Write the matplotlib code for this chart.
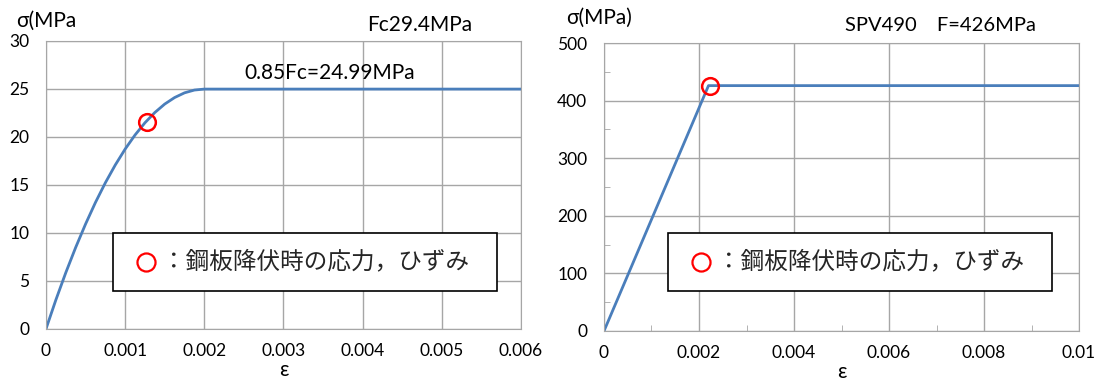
import numpy as np
import matplotlib.pyplot as plt
from matplotlib.patches import Rectangle
from matplotlib.ticker import MultipleLocator

plt.rcParams['font.family'] = ['Lato', 'DejaVu Sans']
plt.rcParams['font.size'] = 12

# --- コンクリート (Fc29.4MPa) 応力-ひずみ ---
conc_eps = [0, 0.000125, 0.00025, 0.000375, 0.0005, 0.000625, 0.00075, 0.000875,
            0.001, 0.001125, 0.00125, 0.001375, 0.0015, 0.001625, 0.00175,
            0.001875, 0.002, 0.006]
conc_sig = [0, 3.03, 5.86, 8.49, 10.93, 13.18, 15.23, 17.08,
            18.74, 20.21, 21.48, 22.55, 23.43, 24.11, 24.60,
            24.89, 24.99, 24.99]
conc_yield = (0.00127, 21.6)

# --- 鋼板 SPV490 ---
steel_eps = [0, 0.0022, 0.01]
steel_sig = [0, 426, 426]
steel_yield = (0.00223, 425)

left_xticks = [0, 0.001, 0.002, 0.003, 0.004, 0.005, 0.006]
left_xlabels = ['0', '0.001', '0.002', '0.003', '0.004', '0.005', '0.006']
right_xticks = [0, 0.002, 0.004, 0.006, 0.008, 0.01]
right_xlabels = ['0', '0.002', '0.004', '0.006', '0.008', '0.01']

legend_text = '：鋼板降伏時の応力，ひずみ'

blue = '#4a7ebb'
grid_c = '#a6a6a6'

fig = plt.figure(figsize=(11.05, 3.86), dpi=100)
ax1 = fig.add_axes([0.0416, 0.1477, 0.4299, 0.7461])
ax2 = fig.add_axes([0.5466, 0.1425, 0.4299, 0.7461])


def style(ax):
    ax.grid(True, color=grid_c, linewidth=1)
    ax.set_axisbelow(True)
    for s in ax.spines.values():
        s.set_color(grid_c)
    ax.tick_params(which='major', length=0, labelsize=12.5)
    ax.tick_params(axis='x', which='major', pad=10)
    ax.tick_params(axis='y', which='major', pad=12)
    ax.set_xlabel('ε', fontsize=15, labelpad=1)


def legend_box(ax, x0, y0):
    ax.add_patch(Rectangle((x0, y0), 0.808, 0.2, transform=ax.transAxes,
                           facecolor='white', edgecolor='black', linewidth=1.2, zorder=5))
    ax.plot([x0 + 0.07], [y0 + 0.1], 'o', transform=ax.transAxes, ms=13, mfc='none',
            mec='red', mew=1.6, zorder=6, clip_on=False)
    ax.text(x0 + 0.103, y0 + 0.1, legend_text, transform=ax.transAxes, fontsize=17,
            family=['Noto Sans CJK JP'], color='#262626', va='center', ha='left', zorder=6)


# 左図：コンクリート
ax1.plot(conc_eps, conc_sig, color=blue, linewidth=2)
ax1.plot(*conc_yield, 'o', ms=12, mfc='none', mec='red', mew=1.8)
ax1.set_xlim(0, 0.006)
ax1.set_ylim(0, 30)
ax1.set_xticks(left_xticks, left_xlabels)
ax1.set_yticks(range(0, 31, 5))
style(ax1)
ax1.text(-0.062, 1.069, 'σ(MPa', transform=ax1.transAxes, fontsize=15, va='center')
ax1.text(0.676, 1.056, 'Fc29.4MPa', transform=ax1.transAxes, fontsize=15, va='center')
ax1.text(0.00358, 26.7, '0.85Fc=24.99MPa', fontsize=15, va='center', ha='center')
legend_box(ax1, 0.141, 0.132)

# 右図：鋼板
ax2.plot(steel_eps, steel_sig, color=blue, linewidth=2)
ax2.plot(*steel_yield, 'o', ms=12, mfc='none', mec='red', mew=1.8)
ax2.set_xlim(0, 0.01)
ax2.set_ylim(0, 500)
ax2.set_xticks(right_xticks, right_xlabels)
ax2.set_yticks(range(0, 501, 100))
ax2.xaxis.set_minor_locator(MultipleLocator(0.001))
ax2.yaxis.set_minor_locator(MultipleLocator(50))
ax2.tick_params(which='minor', direction='in', length=4, color=grid_c)
style(ax2)
ax2.text(-0.08, 1.087, 'σ(MPa)', transform=ax2.transAxes, fontsize=15, va='center')
ax2.text(0.507, 1.062, 'SPV490\u3000F=426MPa', transform=ax2.transAxes, fontsize=14.5,
         va='center', family=['Lato', 'Noto Sans CJK JP'])
legend_box(ax2, 0.135, 0.139)

fig.savefig('out.png', dpi=100)
